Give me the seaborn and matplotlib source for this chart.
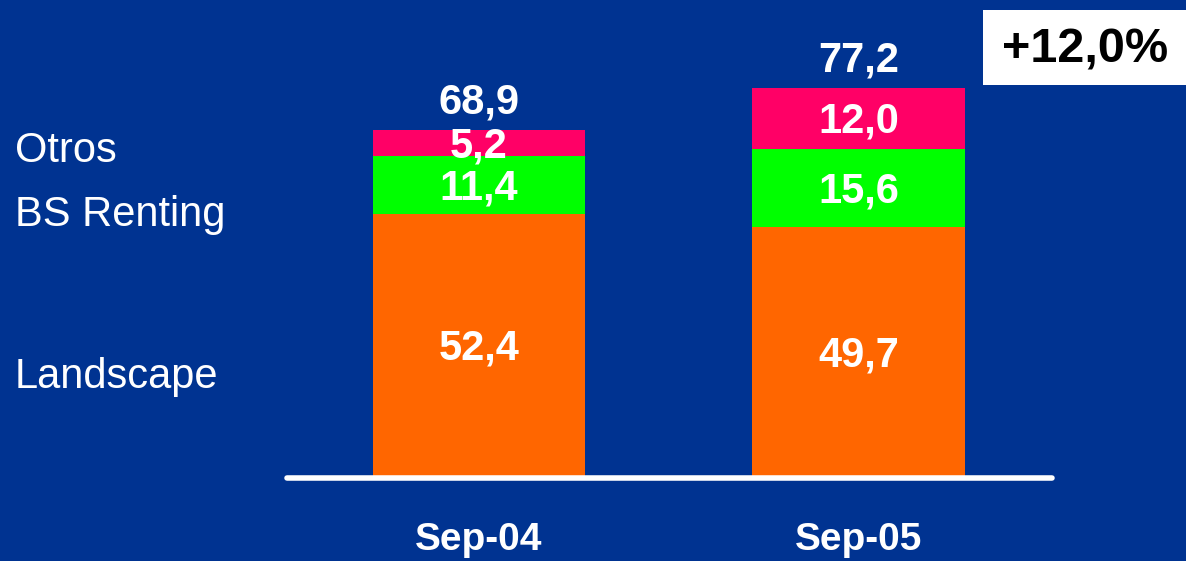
import numpy as np
import pandas as pd
import seaborn as sns
import matplotlib.pyplot as plt
from matplotlib.patches import Rectangle

# datos
periodos = ['Sep-04', 'Sep-05']
landscape = [52.4, 49.7]
bs_renting = [11.4, 15.6]
otros = [5.2, 12.0]
totales = [68.9, 77.2]
segmentos = ['Landscape', 'BS Renting', 'Otros']
crecimiento = '+12,0%'

fondo = '#003391'
colores = {'Landscape': '#FF6600', 'BS Renting': '#00FF00', 'Otros': '#FF0066'}

sns.set_theme(style='white')
plt.rcParams['font.family'] = ['Liberation Sans', 'DejaVu Sans']

df = pd.DataFrame({'periodo': periodos, 'Landscape': landscape,
                   'BS Renting': bs_renting, 'Otros': otros})
df['acum_bs'] = df['Landscape'] + df['BS Renting']
df['acum_otros'] = df['acum_bs'] + df['Otros']

fig = plt.figure(figsize=(11.86, 5.61), dpi=100, facecolor=fondo)
ax = fig.add_axes([287 / 1186, 1 - 478 / 561, (1052 - 287) / 1186, 478 / 561])
ax.set_facecolor(fondo)

# barras apiladas: se dibuja el acumulado de mayor a menor
for col, seg in [('acum_otros', 'Otros'), ('acum_bs', 'BS Renting'), ('Landscape', 'Landscape')]:
    sns.barplot(data=df, x='periodo', y=col, color=colores[seg], saturation=1,
                width=0.559, linewidth=0, edgecolor='none', ax=ax)

ax.set_xlim(-0.506, 1.51)
ax.set_ylim(0, 94.8)
ax.set_xlabel('')
ax.set_ylabel('')
ax.set_yticks([])
ax.tick_params(axis='x', length=0, pad=32, labelsize=28, labelcolor='white')
for t in ax.get_xticklabels():
    t.set_fontweight('bold')
for s in ax.spines.values():
    s.set_visible(False)
ax.axhline(0, color='white', lw=4, solid_capstyle='round', clip_on=False)

# etiquetas de valores
for i in range(len(periodos)):
    base = 0
    for seg in segmentos:
        v = df[seg][i]
        ax.text(i, base + v / 2 - 0.6, f'{v:.1f}'.replace('.', ','), ha='center', va='center',
                color='white', fontsize=30, fontweight='bold')
        base += v
    ax.text(i, totales[i] + 5.6, f'{totales[i]:.1f}'.replace('.', ','), ha='center',
            va='center', color='white', fontsize=30, fontweight='bold')

# nombres de segmentos a la izquierda
for nombre, ypx in zip(['Otros', 'BS Renting', 'Landscape'], [151, 215, 377]):
    fig.text(15 / 1186, 1 - ypx / 561, nombre, ha='left', va='center',
             color='white', fontsize=30)

# recuadro de crecimiento
fig.patches.append(Rectangle((983 / 1186, 1 - 85 / 561), (1186 - 983) / 1186, 75 / 561,
                             transform=fig.transFigure, facecolor='white', edgecolor='none'))
fig.text(1085 / 1186, 1 - 50 / 561, crecimiento, ha='center', va='center',
         color='black', fontsize=35, fontweight='bold')

fig.savefig('out.png', dpi=100, facecolor=fondo)
